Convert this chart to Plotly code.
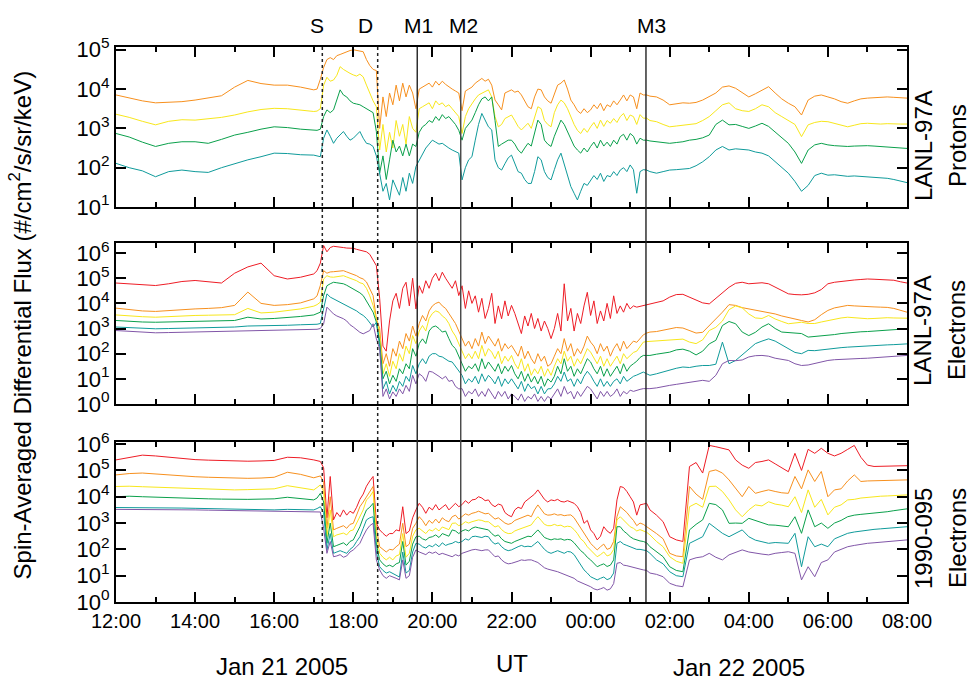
import numpy as np
import pandas as pd
import plotly.graph_objects as go

# Sample times: 20-min steps before 17:00, 5-min steps through the active
# interval, 10-min steps afterwards.
times = (pd.date_range("2005-01-21 12:00", "2005-01-21 17:00", freq="20min")
         .append(pd.date_range("2005-01-21 17:05", "2005-01-22 01:30", freq="5min"))
         .append(pd.date_range("2005-01-22 01:40", "2005-01-22 08:00", freq="10min")))

# ---- LANL-97A protons, log10 flux ----
p_orange = ([3.85, 3.78, 3.70, 3.65, 3.67, 3.68, 3.72, 3.78, 3.83, 4.05, 4.22, 4.14, 4.10, 4.10, 4.05, 3.98]
            + [4.00, 4.25, 4.55, 4.75, 4.80, 4.75, 4.85, 4.88, 4.92, 4.95, 4.98, 5.00]
            + [4.98, 4.97, 4.95, 4.75, 4.60, 4.50, 4.47, 3.00, 3.80, 3.30, 3.90, 3.60]
            + [4.10, 3.70, 4.15, 3.80, 4.10, 3.90, 3.50, 4.00, 4.05, 4.10, 4.15, 4.05]
            + [4.20, 4.10, 4.20, 4.12, 4.05, 4.00, 3.95, 3.90, 3.45, 3.95, 4.00, 4.05]
            + [4.15, 4.22, 4.27, 4.20, 4.25, 4.10, 3.72, 3.60, 3.47, 3.90, 3.95, 3.98]
            + [3.92, 3.95, 3.85, 3.70, 3.55, 3.50, 3.80, 4.00, 3.98, 3.80, 3.70, 3.64]
            + [3.90, 4.10, 4.15, 4.23, 4.00, 3.72, 3.60, 3.45, 3.38, 3.50, 3.40, 3.47]
            + [3.60, 3.50, 3.64, 3.45, 3.60, 3.55, 3.70, 3.60, 3.72, 3.85, 3.70, 3.85]
            + [3.80, 3.50, 3.90, 3.85, 3.85, 3.82]
            + [3.80, 3.72, 3.60]
            + [3.62, 3.65, 3.64, 3.66, 3.72, 3.80]
            + [3.90, 4.05, 4.08, 4.02, 3.90, 3.80]
            + [3.88, 3.98, 4.06, 3.90, 3.75, 3.64]
            + [3.55, 3.34, 3.72, 3.82, 3.85, 3.80]
            + [3.75, 3.68, 3.64, 3.70, 3.75, 3.77]
            + [3.78, 3.80, 3.80, 3.79, 3.78, 3.77])

p_yellow = ([3.36, 3.28, 3.18, 3.09, 3.18, 3.22, 3.21, 3.24, 3.28, 3.34, 3.42, 3.48, 3.51, 3.50, 3.46, 3.43]
            + [3.44, 3.50, 4.10, 4.30, 4.20, 4.23, 4.35, 4.57, 4.50, 4.44, 4.40, 4.36]
            + [4.33, 4.38, 4.31, 4.10, 3.89, 3.70, 3.55, 2.45, 3.10, 2.40, 2.90, 2.50]
            + [3.20, 2.80, 3.10, 2.60, 3.30, 3.00, 2.90, 3.50, 3.55, 3.60, 3.65, 3.50]
            + [3.70, 3.60, 3.65, 3.55, 3.60, 3.50, 3.40, 3.30, 2.87, 3.30, 3.50, 3.64]
            + [3.75, 3.85, 3.90, 3.95, 3.98, 3.80, 3.30, 3.04, 3.10, 3.25, 3.30, 3.34]
            + [3.20, 3.05, 2.96, 3.05, 3.13, 3.00, 3.30, 3.55, 3.50, 3.20, 3.10, 3.04]
            + [3.40, 3.60, 3.72, 3.65, 3.50, 3.30, 3.10, 2.95, 2.87, 3.00, 2.90, 3.04]
            + [3.15, 3.00, 3.21, 3.05, 3.20, 3.13, 3.25, 3.15, 3.30, 3.38, 3.20, 3.34]
            + [3.30, 3.10, 3.35, 3.26, 3.26, 3.20]
            + [3.17, 3.10, 3.04]
            + [3.06, 3.08, 3.09, 3.12, 3.20, 3.30]
            + [3.45, 3.60, 3.65, 3.50, 3.45, 3.43]
            + [3.50, 3.60, 3.55, 3.40, 3.30, 3.21]
            + [3.10, 2.79, 3.09, 3.15, 3.18, 3.17]
            + [3.12, 3.08, 3.04, 3.08, 3.12, 3.13]
            + [3.12, 3.11, 3.12, 3.11, 3.11, 3.11])

p_green = ([2.87, 2.78, 2.65, 2.54, 2.62, 2.66, 2.66, 2.62, 2.72, 2.83, 2.90, 2.98, 3.04, 3.02, 2.98, 2.96]
           + [2.95, 2.98, 3.30, 3.47, 3.40, 3.47, 3.70, 3.98, 3.85, 3.80, 3.70, 3.64]
           + [3.62, 3.60, 3.55, 3.50, 3.47, 3.40, 2.92, 1.86, 2.30, 1.70, 2.20, 2.70]
           + [2.40, 2.55, 2.30, 2.60, 2.30, 2.60, 2.54, 2.90, 3.04, 3.10, 3.20, 3.15]
           + [3.30, 3.20, 3.35, 3.25, 3.30, 3.20, 3.10, 2.95, 2.70, 3.00, 3.10, 3.21]
           + [3.40, 3.60, 3.75, 3.80, 3.70, 3.80, 3.20, 2.54, 2.60, 2.65, 2.70, 2.70]
           + [2.60, 2.45, 2.37, 2.50, 2.62, 2.55, 2.90, 3.21, 3.10, 2.70, 2.60, 2.54]
           + [2.80, 3.00, 3.21, 3.10, 2.90, 2.70, 2.55, 2.45, 2.37, 2.50, 2.40, 2.54]
           + [2.65, 2.50, 2.70, 2.55, 2.65, 2.54, 2.70, 2.60, 2.79, 2.85, 2.70, 2.87]
           + [2.80, 2.60, 2.75, 2.70, 2.70, 2.68]
           + [2.66, 2.63, 2.62]
           + [2.64, 2.66, 2.70, 2.72, 2.76, 2.83]
           + [3.10, 3.21, 3.09, 3.10, 3.05, 3.00]
           + [3.06, 3.13, 3.05, 2.90, 2.75, 2.62]
           + [2.40, 2.11, 2.45, 2.58, 2.62, 2.58]
           + [2.56, 2.55, 2.54, 2.55, 2.56, 2.56]
           + [2.55, 2.54, 2.53, 2.52, 2.50, 2.49])

p_teal = ([2.11, 2.00, 1.92, 1.77, 1.90, 1.94, 1.90, 1.88, 2.00, 2.10, 2.20, 2.28, 2.37, 2.36, 2.33, 2.32]
          + [2.30, 2.28, 2.75, 2.96, 2.80, 2.62, 2.75, 2.85, 2.92, 2.80, 2.70, 2.75]
          + [2.85, 2.92, 2.75, 2.62, 2.60, 2.54, 2.30, 1.80, 1.40, 1.60, 1.18, 1.69]
          + [1.50, 1.30, 1.75, 1.40, 1.86, 1.60, 2.03, 2.20, 2.37, 2.50, 2.60, 2.70]
          + [2.65, 2.60, 2.62, 2.55, 2.50, 2.45, 2.40, 2.37, 1.69, 2.00, 2.20, 2.28]
          + [2.70, 3.10, 3.38, 3.20, 3.04, 2.96, 2.20, 2.00, 1.94, 2.10, 2.25, 2.32]
          + [2.10, 1.90, 1.86, 1.70, 1.60, 1.60, 1.90, 2.28, 2.20, 1.90, 1.75, 1.69]
          + [1.95, 2.20, 2.37, 2.10, 1.80, 1.52, 1.35, 1.18, 1.40, 1.60, 1.55, 1.69]
          + [1.80, 1.70, 1.86, 1.65, 1.80, 1.77, 1.90, 1.80, 1.94, 2.00, 1.90, 2.07]
          + [1.95, 1.35, 1.90, 1.95, 1.94, 1.90]
          + [1.86, 1.90, 1.94]
          + [1.95, 1.96, 1.98, 2.05, 2.15, 2.28]
          + [2.45, 2.54, 2.45, 2.48, 2.46, 2.45]
          + [2.40, 2.37, 2.30, 2.15, 2.00, 1.86]
          + [1.65, 1.40, 1.55, 1.80, 1.86, 1.81]
          + [1.82, 1.80, 1.78, 1.79, 1.78, 1.77]
          + [1.76, 1.74, 1.73, 1.70, 1.66, 1.62])

# ---- LANL-97A electrons, log10 flux ----
e2_red = ([4.81, 4.78, 4.74, 4.71, 4.78, 4.87, 4.91, 4.87, 4.81, 5.20, 5.45, 5.60, 5.10, 4.97, 5.04, 5.17]
          + [5.30, 5.60, 6.30, 6.05, 6.22, 6.27, 6.26, 6.25, 6.22, 6.20, 6.20, 6.19]
          + [6.15, 6.12, 6.10, 6.05, 5.95, 5.75, 5.50, 4.20, 2.30, 2.10, 3.30, 4.10]
          + [4.40, 3.80, 4.60, 4.84, 3.90, 5.00, 3.78, 4.70, 4.40, 4.90, 4.60, 5.00]
          + [5.20, 4.90, 5.24, 5.00, 4.80, 4.60, 4.90, 4.31, 4.70, 3.80, 4.50, 4.00]
          + [4.30, 3.65, 4.20, 3.40, 3.80, 4.40, 3.20, 3.90, 3.39, 4.10, 3.50, 3.92]
          + [3.60, 3.20, 2.80, 3.50, 3.10, 3.60, 3.00, 3.40, 2.90, 3.30, 3.00, 2.60]
          + [3.00, 3.60, 2.90, 4.78, 3.30, 3.80, 2.90, 3.60, 3.20, 3.90, 4.44, 3.52]
          + [4.10, 3.20, 3.70, 3.30, 4.00, 3.40, 4.30, 3.60, 3.90, 3.65, 4.00, 3.78]
          + [3.90, 3.85, 3.88, 3.92, 3.95, 3.98]
          + [4.03, 4.10, 4.25]
          + [4.35, 4.36, 4.25, 4.12, 4.02, 3.98]
          + [4.20, 4.40, 4.64, 4.80, 4.84, 4.78]
          + [4.80, 4.82, 4.78, 4.65, 4.50, 4.38]
          + [4.35, 4.34, 4.36, 4.42, 4.55, 4.78]
          + [4.84, 4.88, 4.91, 4.93, 4.95, 4.97]
          + [4.96, 4.95, 4.95, 4.92, 4.86, 4.81])

e2_orange = ([3.81, 3.75, 3.70, 3.68, 3.72, 3.76, 3.78, 3.80, 3.83, 3.92, 4.45, 4.00, 3.92, 3.95, 4.02, 4.18]
             + [4.30, 4.71, 5.30, 5.20, 5.25, 5.26, 5.28, 5.30, 5.30, 5.25, 5.20, 5.17]
             + [5.10, 5.02, 4.97, 4.85, 4.60, 4.31, 3.39, 3.00, 1.60, 2.00, 1.50, 2.20]
             + [1.90, 2.50, 2.20, 2.80, 2.50, 3.10, 2.70, 3.20, 3.52, 3.30, 3.70, 3.90]
             + [4.00, 4.05, 3.90, 3.80, 3.60, 3.40, 3.20, 2.90, 2.60, 2.30, 2.50, 2.20]
             + [2.60, 2.30, 2.86, 2.40, 2.70, 2.50, 2.30, 2.60, 2.10, 2.40, 2.20, 2.33]
             + [2.10, 1.90, 2.30, 1.80, 2.10, 1.80, 1.60, 2.00, 1.70, 1.90, 1.50, 1.60]
             + [1.90, 2.20, 2.00, 2.60, 2.10, 2.40, 1.90, 2.20, 2.00, 2.30, 2.70, 2.46]
             + [2.30, 2.00, 2.40, 2.10, 2.30, 1.90, 2.20, 2.40, 2.10, 2.50, 2.20, 2.33]
             + [2.50, 2.45, 2.60, 2.75, 2.82, 2.86]
             + [2.88, 2.93, 2.99]
             + [3.04, 3.02, 2.92, 2.82, 2.85, 3.12]
             + [3.35, 3.65, 3.95, 3.92, 3.83, 3.78]
             + [3.74, 3.70, 3.65, 3.58, 3.50, 3.45]
             + [3.38, 3.32, 3.26, 3.35, 3.55, 3.72]
             + [3.82, 3.88, 3.92, 3.90, 3.88, 3.85]
             + [3.86, 3.85, 3.84, 3.80, 3.72, 3.65])

e2_yellow = ([3.54, 3.50, 3.47, 3.45, 3.48, 3.50, 3.52, 3.53, 3.54, 3.55, 3.80, 3.62, 3.65, 3.70, 3.78, 3.89]
             + [3.95, 4.05, 4.97, 5.10, 5.05, 5.04, 5.06, 5.10, 5.10, 5.05, 5.00, 4.97]
             + [4.90, 4.82, 4.78, 4.60, 4.30, 3.92, 3.39, 2.80, 1.20, 1.60, 1.10, 1.70]
             + [1.40, 2.00, 1.70, 2.30, 2.00, 2.72, 2.40, 2.90, 3.12, 2.90, 3.40, 3.60]
             + [3.70, 3.65, 3.50, 3.40, 3.20, 2.90, 2.70, 2.40, 2.10, 1.80, 2.00, 1.80]
             + [2.10, 1.80, 2.33, 1.90, 2.20, 2.06, 1.80, 2.10, 1.60, 1.90, 1.70, 1.93]
             + [1.60, 1.40, 1.80, 1.30, 1.60, 1.14, 1.40, 1.20, 1.50, 1.10, 1.40, 1.14]
             + [1.50, 1.80, 1.60, 2.10, 1.70, 1.90, 1.50, 1.80, 1.60, 1.90, 2.20, 2.06]
             + [1.80, 1.60, 1.90, 1.50, 1.80, 1.50, 1.70, 1.90, 1.60, 2.00, 1.80, 1.93]
             + [2.05, 2.10, 2.30, 2.46, 2.48, 2.49]
             + [2.50, 2.52, 2.53]
             + [2.57, 2.58, 2.46, 2.40, 2.55, 2.92]
             + [3.05, 3.30, 3.75, 3.90, 3.82, 3.58]
             + [3.42, 3.40, 3.52, 3.38, 3.28, 3.19]
             + [3.22, 3.25, 3.20, 3.20, 3.26, 3.32]
             + [3.38, 3.42, 3.45, 3.42, 3.40, 3.39]
             + [3.40, 3.42, 3.43, 3.42, 3.41, 3.41])

e2_green = ([3.32, 3.28, 3.26, 3.25, 3.26, 3.27, 3.28, 3.29, 3.30, 3.32, 3.45, 3.38, 3.40, 3.43, 3.48, 3.54]
            + [3.58, 3.65, 4.31, 4.70, 4.78, 4.84, 4.82, 4.80, 4.78, 4.72, 4.65, 4.58]
            + [4.50, 4.42, 4.31, 4.10, 3.85, 3.65, 3.25, 2.50, 1.00, 1.30, 0.80, 1.14]
            + [0.90, 1.40, 1.20, 1.60, 1.40, 2.20, 1.90, 2.40, 2.59, 2.40, 2.90, 3.06]
            + [3.10, 3.00, 2.86, 2.90, 2.60, 2.33, 2.20, 1.90, 1.53, 1.30, 1.50, 1.40]
            + [1.60, 1.30, 1.80, 1.40, 1.67, 1.50, 1.30, 1.60, 1.20, 1.50, 1.30, 1.53]
            + [1.20, 1.00, 1.30, 0.90, 1.20, 0.87, 1.10, 0.80, 1.10, 0.70, 1.00, 0.87]
            + [1.10, 1.50, 1.20, 1.80, 1.30, 1.50, 1.10, 1.40, 1.20, 1.50, 1.80, 1.67]
            + [1.40, 1.20, 1.50, 1.10, 1.40, 1.10, 1.30, 1.50, 1.20, 1.60, 1.30, 1.50]
            + [1.60, 1.70, 1.85, 1.93, 1.93, 1.93]
            + [1.98, 2.02, 2.06]
            + [2.15, 2.18, 2.10, 1.95, 2.10, 2.39]
            + [2.53, 3.12, 3.28, 3.19, 2.86, 2.72]
            + [2.85, 3.06, 3.19, 3.00, 2.86, 2.85]
            + [2.84, 2.80, 2.66, 2.68, 2.70, 2.72]
            + [2.76, 2.80, 2.83, 2.85, 2.87, 2.88]
            + [2.90, 2.93, 2.96, 2.97, 2.98, 2.99])

e2_teal = ([3.06, 3.03, 3.00, 2.99, 3.00, 3.01, 3.02, 3.03, 3.05, 3.06, 3.10, 3.10, 3.12, 3.13, 3.15, 3.16]
           + [3.17, 3.20, 3.78, 4.38, 4.25, 4.18, 4.10, 4.05, 3.98, 3.90, 3.85, 3.78]
           + [3.70, 3.60, 3.52, 3.40, 3.25, 3.06, 3.25, 2.30, 0.60, 0.90, 0.40, 0.74]
           + [0.50, 0.90, 0.70, 1.10, 0.90, 1.53, 1.20, 1.60, 1.80, 1.60, 1.90, 2.00]
           + [2.00, 1.90, 1.87, 1.80, 1.70, 1.67, 1.50, 1.30, 1.14, 0.80, 1.00, 0.87]
           + [1.10, 0.80, 1.20, 0.90, 1.14, 1.00, 0.80, 1.10, 0.70, 1.00, 0.80, 1.00]
           + [0.80, 0.60, 0.90, 0.50, 0.80, 0.61, 0.70, 0.40, 0.70, 0.40, 0.60, 0.61]
           + [0.80, 1.10, 0.90, 1.27, 0.90, 1.00, 0.70, 1.00, 0.80, 1.10, 1.30, 1.14]
           + [0.90, 0.70, 1.00, 0.70, 0.90, 0.70, 0.90, 1.00, 0.80, 1.10, 0.90, 1.00]
           + [1.10, 1.15, 1.20, 1.27, 1.20, 1.14]
           + [1.20, 1.28, 1.34]
           + [1.42, 1.47, 1.45, 1.50, 1.53, 1.53]
           + [1.58, 2.46, 1.60, 1.73, 1.95, 2.20]
           + [2.40, 2.50, 2.59, 2.50, 2.35, 2.20]
           + [2.05, 2.00, 2.13, 2.12, 2.15, 2.20]
           + [2.22, 2.24, 2.26, 2.28, 2.29, 2.30]
           + [2.32, 2.33, 2.35, 2.36, 2.38, 2.39])

e2_purple = ([2.92, 2.88, 2.85, 2.83, 2.84, 2.85, 2.86, 2.87, 2.88, 2.89, 2.90, 2.91, 2.92, 2.93, 2.95, 2.96]
             + [2.97, 3.00, 3.19, 3.85, 3.70, 3.58, 3.50, 3.45, 3.39, 3.30, 3.15, 3.06]
             + [2.95, 2.85, 2.79, 2.85, 2.92, 3.19, 2.59, 2.20, 0.30, 0.60, 0.20, 0.48]
             + [0.30, 0.60, 0.40, 0.74, 0.50, 1.14, 0.80, 1.20, 1.10, 0.90, 1.30, 1.27]
             + [1.20, 1.10, 1.00, 1.10, 0.90, 0.94, 0.70, 0.60, 0.61, 0.30, 0.50, 0.40]
             + [0.60, 0.30, 0.50, 0.30, 0.61, 0.40, 0.20, 0.50, 0.30, 0.50, 0.20, 0.40]
             + [0.30, 0.15, 0.40, 0.10, 0.30, 0.20, 0.40, 0.10, 0.30, 0.10, 0.30, 0.20]
             + [0.40, 0.60, 0.30, 0.70, 0.40, 0.50, 0.20, 0.50, 0.30, 0.50, 0.70, 0.60]
             + [0.40, 0.20, 0.50, 0.30, 0.50, 0.30, 0.40, 0.60, 0.30, 0.50, 0.40, 0.55]
             + [0.50, 0.55, 0.58, 0.61, 0.60, 0.61]
             + [0.64, 0.70, 0.74]
             + [0.78, 0.82, 0.87, 0.90, 0.94, 0.90]
             + [1.14, 1.60, 1.73, 1.72, 1.75, 1.87]
             + [1.92, 1.93, 1.90, 1.82, 1.78, 1.73]
             + [1.60, 1.53, 1.55, 1.62, 1.68, 1.73]
             + [1.76, 1.78, 1.80, 1.81, 1.81, 1.82]
             + [1.84, 1.85, 1.87, 1.89, 1.91, 1.93])

# ---- 1990-095 electrons, log10 flux ----
e3_red = ([5.40, 5.50, 5.58, 5.55, 5.50, 5.45, 5.41, 5.39, 5.37, 5.35, 5.35, 5.36, 5.38, 5.50, 5.48, 5.40]
          + [5.38, 5.34, 5.10, 3.20, 4.77, 3.12, 3.40, 3.24, 3.50, 3.30, 3.45, 3.37]
          + [3.60, 3.90, 4.10, 4.40, 4.60, 4.77, 3.00, 2.74, 2.61, 2.50, 2.60, 2.60]
          + [2.74, 2.70, 3.62, 2.60, 2.70, 3.20, 3.50, 3.75, 3.60, 3.37, 3.60, 3.50]
          + [3.70, 3.50, 3.60, 3.70, 3.50, 3.62, 3.75, 3.62, 3.70, 3.85, 3.75, 3.88]
          + [3.90, 4.00, 3.95, 3.85, 3.88, 3.70, 3.62, 3.72, 3.68, 3.40, 3.30, 3.24]
          + [3.50, 3.60, 3.55, 3.80, 3.90, 4.00, 4.10, 4.26, 4.10, 3.90, 3.80, 3.88]
          + [3.85, 3.90, 3.82, 3.80, 3.85, 3.81, 3.75, 3.62, 3.40, 2.99, 3.10, 2.74]
          + [2.60, 2.36, 2.50, 2.86, 2.70, 2.61, 2.80, 3.88, 4.39, 4.35, 4.20, 4.00]
          + [3.80, 3.30, 3.69, 3.72, 3.75, 3.50]
          + [3.30, 3.05, 2.48]
          + [2.36, 2.30, 5.15, 5.30, 4.90, 5.95]
          + [5.90, 5.85, 5.78, 5.40, 5.20, 5.08]
          + [5.30, 5.34, 5.40, 5.25, 5.10, 4.95]
          + [5.65, 5.00, 5.80, 5.65, 5.84, 5.65]
          + [5.55, 5.65, 5.80, 5.95, 5.50, 5.20]
          + [5.15, 5.16, 5.16, 5.17, 5.18, 5.18])

e3_orange = ([4.83, 4.88, 4.90, 4.86, 4.82, 4.78, 4.76, 4.74, 4.72, 4.70, 4.70, 4.71, 4.74, 4.93, 4.85, 4.72]
             + [4.75, 4.79, 4.55, 2.80, 4.00, 2.74, 2.80, 2.86, 2.90, 2.80, 2.95, 2.99]
             + [3.30, 3.62, 3.80, 4.00, 4.20, 4.39, 2.80, 2.10, 2.00, 1.90, 2.00, 1.98]
             + [2.10, 2.20, 2.99, 2.10, 2.20, 2.80, 2.99, 3.24, 3.10, 2.90, 3.10, 2.99]
             + [3.15, 3.00, 3.20, 3.10, 3.05, 3.24, 3.30, 3.15, 3.25, 3.35, 3.30, 3.37]
             + [3.40, 3.45, 3.40, 3.35, 3.37, 3.25, 3.15, 3.20, 3.10, 3.00, 2.95, 2.99]
             + [3.10, 3.15, 3.20, 3.25, 3.30, 3.24, 3.50, 3.69, 3.50, 3.35, 3.30, 3.31]
             + [3.35, 3.30, 3.32, 3.28, 3.30, 3.31, 3.20, 3.00, 2.80, 2.61, 2.40, 2.23]
             + [2.10, 1.98, 2.10, 2.20, 2.00, 2.05, 2.30, 3.24, 3.62, 3.50, 3.40, 3.24]
             + [3.10, 2.90, 3.00, 2.95, 2.86, 2.80]
             + [2.60, 2.40, 1.85]
             + [1.75, 1.72, 4.39, 4.10, 3.90, 4.96]
             + [5.02, 4.90, 4.64, 4.30, 4.00, 4.39]
             + [4.13, 4.20, 4.26, 4.20, 4.15, 4.13]
             + [4.77, 4.30, 5.02, 4.58, 4.96, 4.00]
             + [4.26, 4.30, 4.60, 4.83, 4.58, 4.60]
             + [4.61, 4.61, 4.61, 4.62, 4.63, 4.64])

e3_yellow = ([4.39, 4.40, 4.38, 4.36, 4.35, 4.34, 4.32, 4.30, 4.28, 4.26, 4.27, 4.28, 4.30, 4.42, 4.35, 4.26]
             + [4.35, 4.45, 4.20, 2.48, 3.50, 2.48, 2.55, 2.60, 2.62, 2.55, 2.70, 2.74]
             + [3.00, 3.24, 3.50, 3.88, 4.00, 4.20, 2.50, 1.85, 1.70, 1.60, 1.70, 1.60]
             + [1.75, 1.80, 2.60, 1.70, 1.85, 2.50, 2.74, 2.80, 2.70, 2.60, 2.75, 2.70]
             + [2.80, 2.70, 2.85, 2.80, 2.75, 2.99, 3.00, 2.90, 2.95, 3.05, 3.00, 3.05]
             + [3.10, 3.12, 3.10, 3.05, 3.05, 2.95, 2.85, 2.90, 2.75, 2.65, 2.60, 2.61]
             + [2.70, 2.75, 2.80, 2.85, 2.90, 2.93, 3.10, 3.24, 3.10, 2.95, 2.90, 2.90]
             + [2.95, 2.90, 2.92, 2.85, 2.88, 2.86, 2.75, 2.60, 2.40, 2.29, 2.10, 1.98]
             + [1.85, 1.72, 1.80, 1.90, 1.75, 1.80, 2.00, 3.12, 3.24, 3.10, 3.00, 2.86]
             + [2.80, 2.70, 2.75, 2.70, 2.65, 2.55]
             + [2.30, 2.10, 1.72]
             + [1.55, 1.47, 3.62, 3.75, 3.60, 4.39]
             + [4.40, 4.20, 3.88, 3.50, 3.24, 3.50]
             + [3.69, 3.65, 3.81, 3.72, 3.68, 3.62]
             + [4.00, 3.40, 4.26, 3.60, 3.90, 3.31]
             + [3.60, 3.69, 3.88, 3.90, 3.95, 3.98]
             + [4.00, 4.02, 4.03, 4.05, 4.06, 4.07])

e3_green = ([4.00, 4.02, 4.00, 3.98, 3.97, 3.96, 3.94, 3.92, 3.91, 3.90, 3.90, 3.91, 3.92, 3.98, 3.94, 3.88]
            + [3.95, 4.13, 3.80, 2.23, 3.00, 2.10, 2.15, 2.20, 2.25, 2.15, 2.30, 2.36]
            + [2.60, 2.86, 3.20, 3.50, 3.60, 3.75, 2.20, 1.60, 1.45, 1.35, 1.40, 1.34]
            + [1.45, 1.50, 2.30, 1.40, 1.55, 2.20, 2.48, 2.50, 2.40, 2.35, 2.45, 2.48]
            + [2.55, 2.45, 2.60, 2.55, 2.50, 2.74, 2.70, 2.60, 2.70, 2.75, 2.70, 2.80]
            + [2.85, 2.82, 2.80, 2.78, 2.74, 2.60, 2.50, 2.55, 2.40, 2.30, 2.25, 2.23]
            + [2.30, 2.35, 2.40, 2.45, 2.50, 2.48, 2.60, 2.74, 2.60, 2.45, 2.40, 2.36]
            + [2.40, 2.38, 2.40, 2.35, 2.38, 2.36, 2.25, 2.10, 1.95, 1.85, 1.70, 1.60]
            + [1.45, 1.34, 1.40, 1.45, 1.35, 1.40, 1.60, 2.86, 2.86, 2.70, 2.60, 2.48]
            + [2.40, 2.35, 2.32, 2.30, 2.25, 2.10]
            + [1.90, 1.72, 1.34]
            + [1.20, 1.15, 2.74, 2.95, 3.12, 3.75]
            + [3.70, 3.50, 2.99, 3.00, 2.99, 3.18]
            + [3.10, 3.00, 2.93, 2.92, 2.90, 2.86]
            + [3.24, 2.61, 3.50, 2.86, 3.00, 2.80]
            + [3.00, 3.10, 3.24, 3.30, 3.33, 3.35]
            + [3.38, 3.40, 3.43, 3.47, 3.50, 3.54])

e3_teal = ([3.59, 3.59, 3.58, 3.59, 3.58, 3.57, 3.56, 3.55, 3.54, 3.53, 3.52, 3.51, 3.50, 3.52, 3.51, 3.50]
           + [3.55, 3.62, 3.40, 1.98, 2.60, 1.85, 1.90, 1.95, 1.90, 1.85, 2.00, 2.10]
           + [2.30, 2.48, 2.80, 3.12, 3.20, 3.24, 1.90, 1.34, 1.20, 1.10, 1.15, 1.09]
           + [1.00, 0.95, 1.90, 1.10, 1.20, 1.90, 2.23, 2.20, 2.10, 2.05, 2.15, 2.10]
           + [2.20, 2.10, 2.25, 2.15, 2.20, 2.23, 2.30, 2.25, 2.30, 2.40, 2.35, 2.48]
           + [2.50, 2.48, 2.45, 2.50, 2.48, 2.30, 2.20, 2.25, 2.10, 2.00, 1.95, 1.98]
           + [2.05, 2.10, 2.15, 2.10, 2.12, 2.10, 2.20, 2.30, 2.15, 2.00, 1.90, 1.85]
           + [1.90, 1.95, 1.90, 1.85, 1.92, 1.90, 1.80, 1.60, 1.40, 1.22, 1.10, 0.96]
           + [0.90, 0.84, 0.90, 0.95, 0.85, 0.90, 1.10, 2.23, 2.30, 2.20, 2.15, 2.10]
           + [2.05, 2.00, 2.00, 1.98, 1.95, 1.85]
           + [1.60, 1.45, 1.15]
           + [1.00, 0.96, 2.23, 2.35, 2.48, 2.99]
           + [2.80, 2.61, 2.48, 2.60, 2.74, 2.48]
           + [2.35, 2.29, 2.23, 2.26, 2.25, 2.23]
           + [2.61, 1.34, 2.48, 2.10, 2.20, 2.10]
           + [2.40, 2.50, 2.61, 2.66, 2.70, 2.74]
           + [2.76, 2.78, 2.80, 2.82, 2.84, 2.86])

e3_purple = ([3.52, 3.52, 3.51, 3.51, 3.51, 3.50, 3.50, 3.49, 3.48, 3.47, 3.46, 3.45, 3.43, 3.42, 3.41, 3.40]
             + [3.41, 3.42, 2.80, 1.85, 2.30, 1.72, 1.75, 1.80, 1.70, 1.75, 1.90, 1.98]
             + [2.10, 2.23, 2.50, 2.74, 2.90, 2.99, 1.60, 1.22, 1.00, 0.90, 1.00, 0.96]
             + [0.90, 0.84, 1.60, 0.90, 1.00, 1.70, 1.98, 1.90, 1.85, 1.80, 1.90, 1.85]
             + [1.90, 1.80, 1.85, 1.80, 1.75, 1.72, 1.80, 1.75, 1.85, 1.90, 1.95, 1.98]
             + [2.00, 1.98, 1.95, 1.98, 1.98, 1.85, 1.72, 1.75, 1.60, 1.50, 1.45, 1.47]
             + [1.50, 1.55, 1.60, 1.58, 1.60, 1.60, 1.55, 1.50, 1.40, 1.30, 1.25, 1.22]
             + [1.20, 1.15, 1.10, 1.05, 1.00, 0.96, 0.90, 0.80, 0.75, 0.71, 0.65, 0.58]
             + [0.50, 0.46, 0.50, 0.55, 0.45, 0.50, 0.70, 1.47, 1.50, 1.40, 1.38, 1.34]
             + [1.30, 1.28, 1.25, 1.22, 1.20, 1.10]
             + [1.05, 0.96, 0.71]
             + [0.62, 0.58, 1.60, 1.68, 1.72, 1.85]
             + [1.70, 1.60, 1.79, 1.90, 1.98, 1.90]
             + [1.85, 1.82, 1.79, 1.85, 1.88, 1.91]
             + [1.85, 0.84, 1.34, 0.96, 1.50, 1.60]
             + [1.90, 2.00, 2.10, 2.15, 2.20, 2.23]
             + [2.25, 2.27, 2.29, 2.32, 2.34, 2.36])

# Energy-channel colours
RED, ORANGE, YELLOW = "#ee1c25", "#f7901e", "#f8e71c"
GREEN, TEAL, PURPLE = "#0aa04b", "#0f9b9b", "#8156a8"

panels = [
    (1, [(p_orange, ORANGE), (p_yellow, YELLOW), (p_green, GREEN), (p_teal, TEAL)]),
    (2, [(e2_red, RED), (e2_orange, ORANGE), (e2_yellow, YELLOW),
         (e2_green, GREEN), (e2_teal, TEAL), (e2_purple, PURPLE)]),
    (3, [(e3_red, RED), (e3_orange, ORANGE), (e3_yellow, YELLOW),
         (e3_green, GREEN), (e3_teal, TEAL), (e3_purple, PURPLE)]),
]

# Vertical event markers
events = [("S", "2005-01-21 17:13", "dot"), ("D", "2005-01-21 18:37", "dot"),
          ("M1", "2005-01-21 19:37", "solid"), ("M2", "2005-01-21 20:43", "solid"),
          ("M3", "2005-01-22 01:24", "solid")]
event_label_x = {"S": 0.2541, "D": 0.3148, "M1": 0.3818, "M2": 0.4399, "M3": 0.6764}

fig = go.Figure()
for k, series in panels:
    for vals, col in series:
        assert len(vals) == len(times), (k, col, len(vals), len(times))
        fig.add_trace(go.Scatter(
            x=times, y=10 ** np.asarray(vals), mode="lines",
            line=dict(color=col, width=1), showlegend=False,
            xaxis="x" if k == 1 else f"x{k}", yaxis="y" if k == 1 else f"y{k}"))

FONT = "Liberation Sans, Arial, Helvetica, sans-serif"
xr = ["2005-01-21 12:00", "2005-01-22 08:00"]

def xaxis_style(anchor, labels):
    return dict(
        type="date", range=xr, anchor=anchor, domain=[0, 1],
        tick0="2005-01-21 12:00", dtick=7200000, tickformat="%H:%M",
        ticks="inside", ticklen=10, tickwidth=1.5, tickcolor="black",
        minor=dict(ticks="inside", ticklen=5, dtick=3600000, tickwidth=1.5, tickcolor="black"),
        showline=True, linewidth=2, linecolor="black", mirror="ticks",
        showgrid=False, zeroline=False, showticklabels=labels,
        tickfont=dict(size=20, color="black"))

def yaxis_style(anchor, domain, lo, hi, rng):
    return dict(
        type="log", anchor=anchor, domain=domain, range=rng,
        tickvals=[10 ** e for e in range(lo, hi + 1)],
        ticktext=[f"10<sup>{e}</sup>" for e in range(lo, hi + 1)],
        ticks="inside", ticklen=10, tickwidth=1.5, tickcolor="black",
        showline=True, linewidth=2, linecolor="black", mirror="ticks",
        showgrid=False, zeroline=False, tickfont=dict(size=22, color="black"))

fig.update_layout(
    width=971, height=680,
    margin=dict(l=116, r=64, t=47, b=78),
    paper_bgcolor="white", plot_bgcolor="white",
    font=dict(family=FONT, color="black"),
    xaxis=xaxis_style("y", False),
    xaxis2=xaxis_style("y2", False),
    xaxis3=xaxis_style("y3", True),
    yaxis=yaxis_style("x", [0.7117, 1.0], 1, 5, [1, 5.07]),
    yaxis2=yaxis_style("x2", [0.3568, 0.6468], 0, 6, [0, 6.4]),
    yaxis3=yaxis_style("x3", [0.0, 0.2883], 0, 6, [0, 6.08]),
)

shapes = []
annotations = []
for name, t, dash in events:
    shapes.append(dict(type="line", xref="x3", yref="paper", x0=t, x1=t, y0=0, y1=1,
                       line=dict(color="#222" if name != "M2" else "#444",
                                 width=1.5 if dash == "dot" else 1.4, dash=dash)))
    annotations.append(dict(text=name, xref="paper", yref="paper",
                            x=event_label_x[name], y=1.0396, showarrow=False,
                            xanchor="center", yanchor="middle", font=dict(size=21)))

side_labels = [("LANL-97A", "Protons", 0.8234), ("LANL-97A", "Electrons", 0.4901),
               ("1990-095", "Electrons", 0.1153)]
for sat, kind, yc in side_labels:
    annotations.append(dict(text=sat, xref="paper", yref="paper", x=1.0202, y=yc,
                            textangle=-90, showarrow=False, xanchor="center",
                            yanchor="middle", font=dict(size=24)))
    annotations.append(dict(text=kind, xref="paper", yref="paper", x=1.0632, y=yc,
                            textangle=-90, showarrow=False, xanchor="center",
                            yanchor="middle", font=dict(size=24)))

annotations += [
    dict(text="Spin-Averaged Differential Flux (#/cm<sup>2</sup>/s/sr/keV)",
         xref="paper", yref="paper", x=-0.1214, y=0.5, textangle=-90,
         showarrow=False, xanchor="center", yanchor="middle", font=dict(size=24)),
    dict(text="Jan 21 2005", xref="paper", yref="paper", x=0.2099, y=-0.1171,
         showarrow=False, xanchor="center", yanchor="middle", font=dict(size=24)),
    dict(text="UT", xref="paper", yref="paper", x=0.5006, y=-0.1117,
         showarrow=False, xanchor="center", yanchor="middle", font=dict(size=24)),
    dict(text="Jan 22 2005", xref="paper", yref="paper", x=0.7876, y=-0.1189,
         showarrow=False, xanchor="center", yanchor="middle", font=dict(size=24)),
]
fig.update_layout(shapes=shapes, annotations=annotations)

fig.write_html("out.html")
